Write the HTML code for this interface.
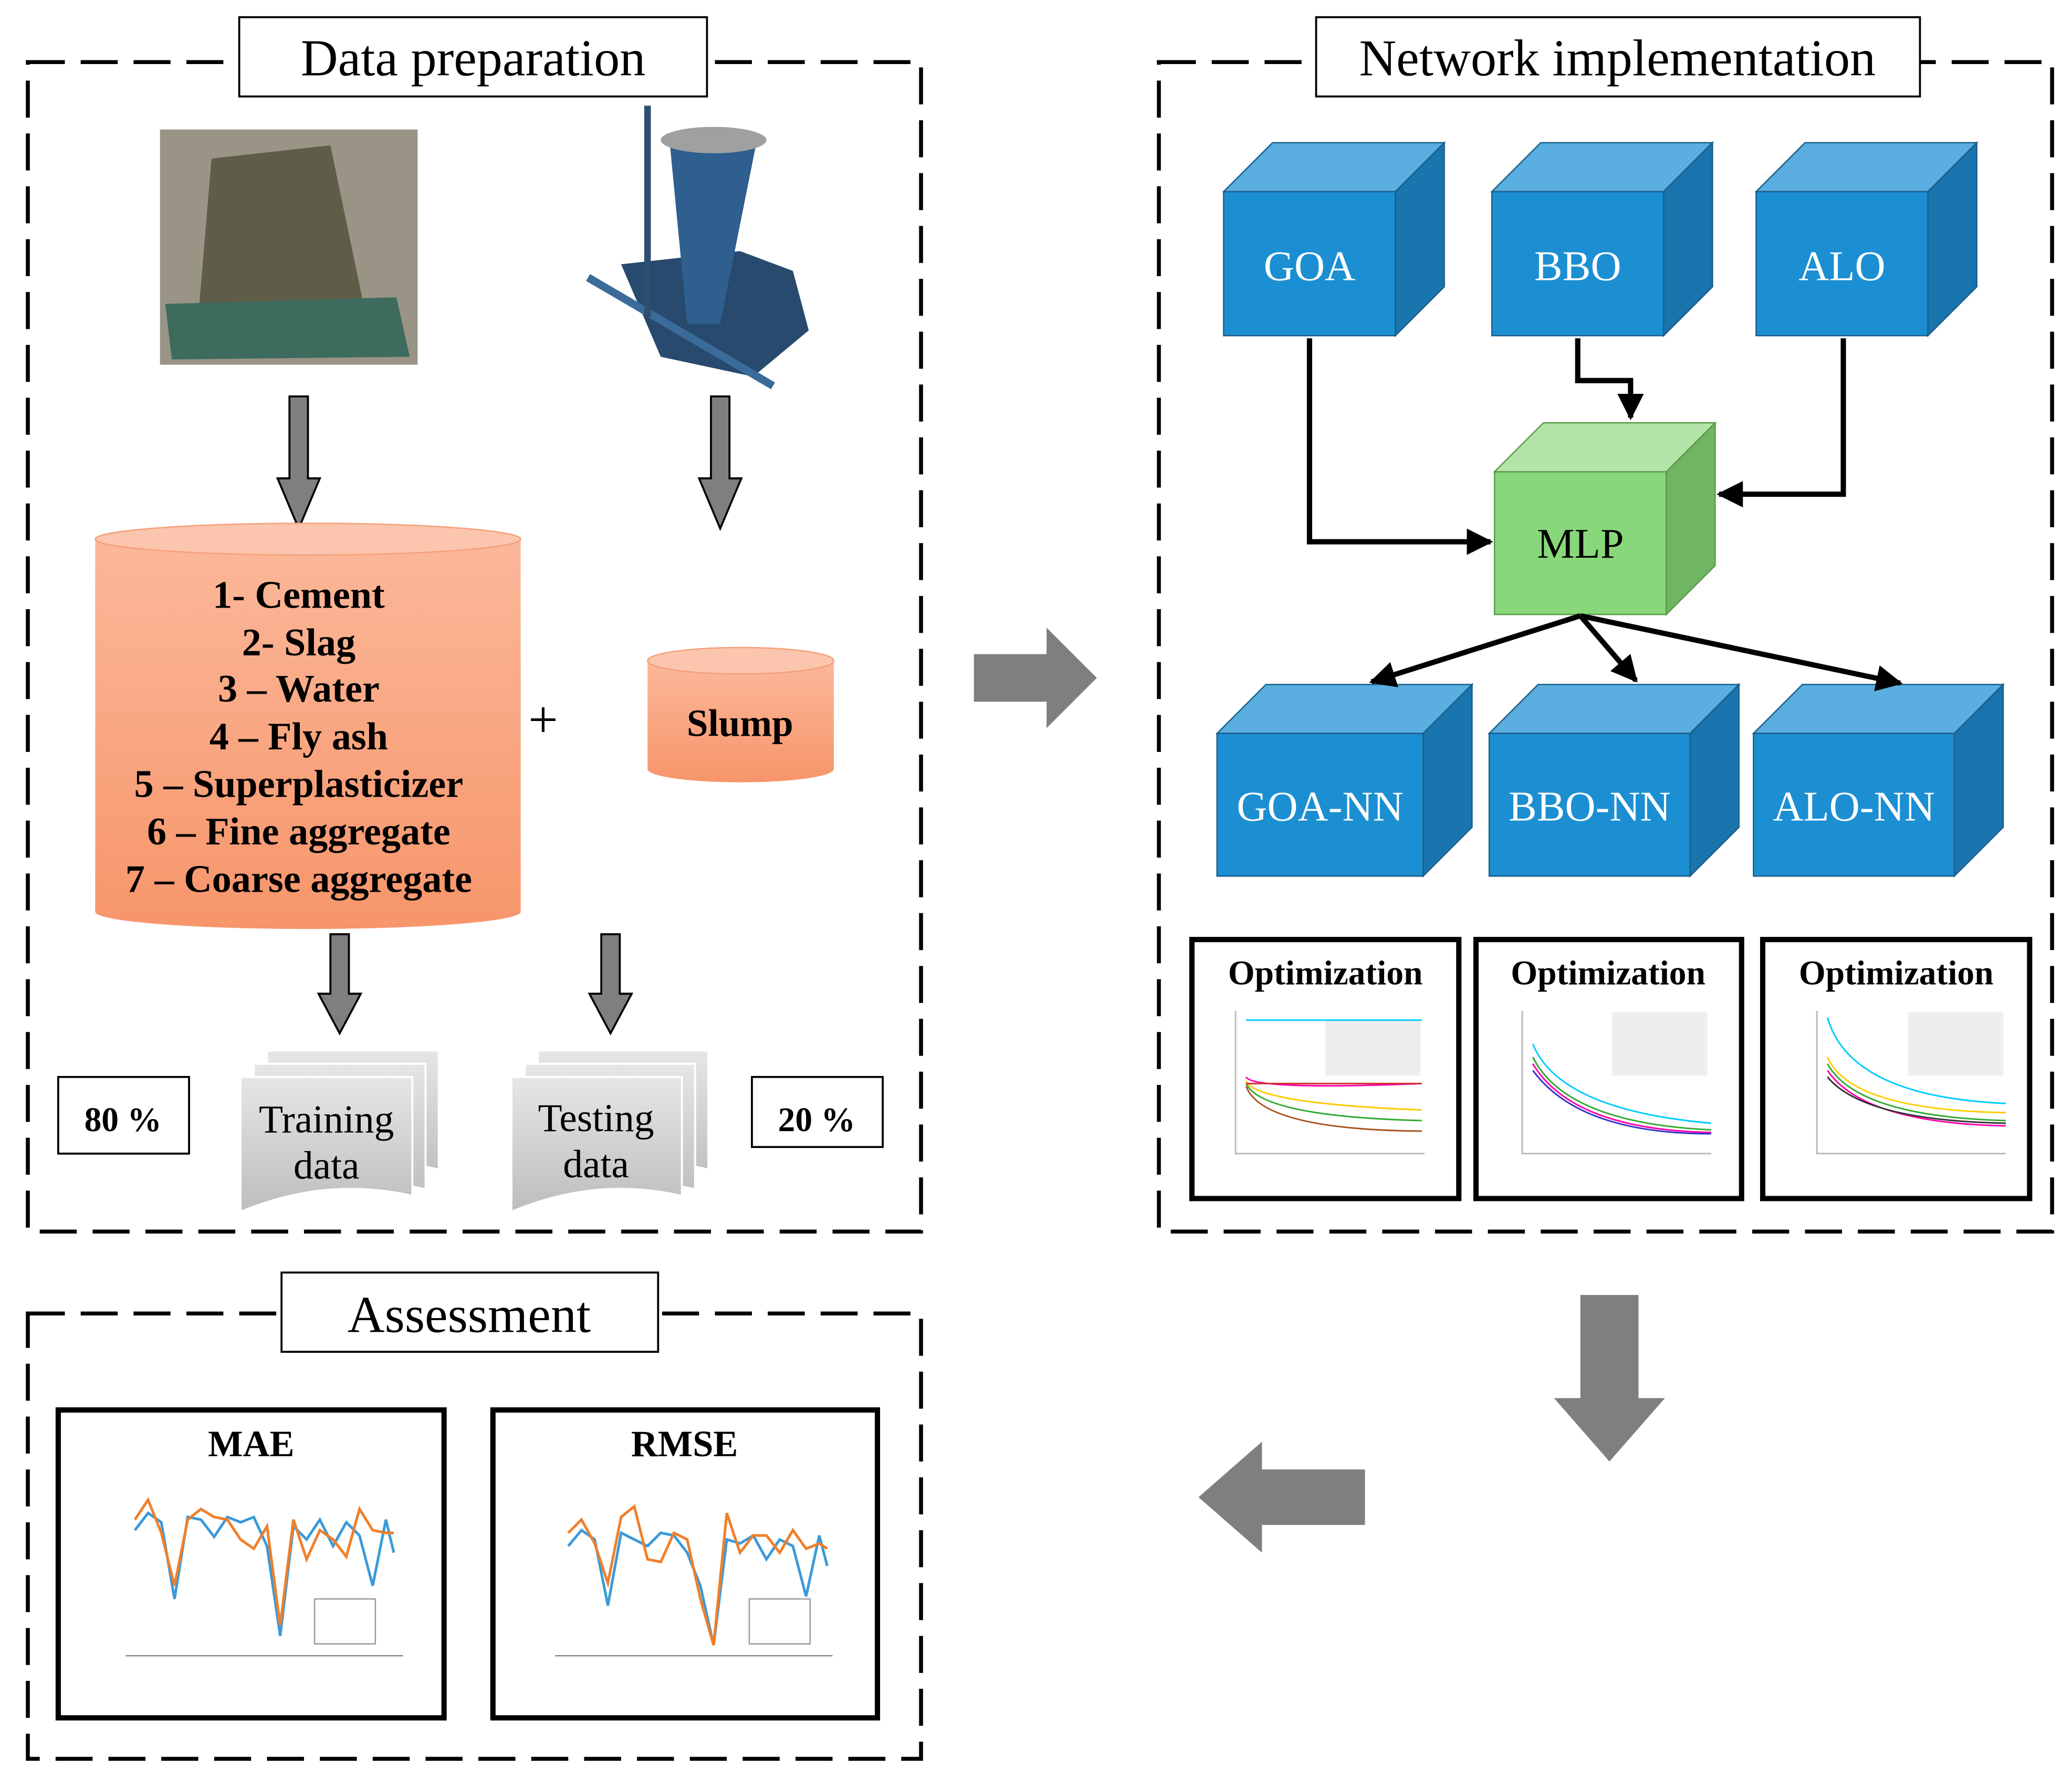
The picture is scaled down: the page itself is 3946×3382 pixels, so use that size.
<!DOCTYPE html>
<html><head><meta charset="utf-8"><style>html,body{margin:0;padding:0;background:#fff}svg{display:block}</style></head>
<body>
<svg width="3946" height="3382" viewBox="0 0 1568 1344" xmlns="http://www.w3.org/2000/svg" font-family="Liberation Serif, serif">
<defs>
<linearGradient id="og" x1="0" x2="0" y1="0" y2="1"><stop offset="0" stop-color="#fbb89a"/><stop offset="1" stop-color="#f7956a"/></linearGradient>
<linearGradient id="gg" x1="0" x2="0" y1="0" y2="1"><stop offset="0" stop-color="#e6e6e6"/><stop offset="1" stop-color="#bdbdbd"/></linearGradient>
<marker id="ah" viewBox="0 0 10 10" refX="9" refY="5" markerWidth="5" markerHeight="5" orient="auto"><path d="M0,0L10,5L0,10z" fill="#000"/></marker>
</defs>
<g fill="none" stroke="#000" stroke-width="3" stroke-dasharray="28,12">
<rect x="21" y="47" width="676" height="885"/>
<rect x="877" y="47" width="676" height="885"/>
<rect x="21" y="994" width="676" height="337"/>
</g>
<g fill="#fff" stroke="#000" stroke-width="1.5">
<rect x="181" y="13" width="354" height="60"/>
<rect x="996" y="13" width="457" height="60"/>
<rect x="213" y="963" width="285" height="60"/>
</g>
<g font-size="39" text-anchor="middle">
<text x="358" y="57">Data preparation</text>
<text x="1224" y="57">Network implementation</text>
<text x="355" y="1008">Assessment</text>
</g>
<!-- photo -->
<rect x="121" y="98" width="195" height="178" fill="#9a9486"/>
<path d="M160,120 L250,110 L275,230 L150,240z" fill="#5f5d48"/>
<path d="M125,230 L300,225 L310,270 L130,272z" fill="#3d6b5e"/>
<!-- slump cone -->
<path d="M470,200 L500,270 L570,285 L612,250 L600,205 L560,190z" fill="#274a6e"/>
<path d="M507,110 L572,110 L545,245 L520,245z" fill="#2e5f8f"/>
<ellipse cx="540" cy="106" rx="40" ry="10" fill="#a0a0a0"/>
<line x1="445" y1="210" x2="585" y2="292" stroke="#3b6b99" stroke-width="6"/>
<line x1="490" y1="80" x2="490" y2="240" stroke="#2e4f70" stroke-width="5"/>
<!-- gray arrows -->
<g fill="#7f7f7f" stroke="#000" stroke-width="1.5">
<path d="M219,300h14v62h9l-16,38l-16,-38h9z"/>
<path d="M538,300h14v62h9l-16,38l-16,-38h9z"/>
<path d="M250,707h14v45h9l-16,30l-16,-30h9z"/>
<path d="M455,707h14v45h9l-16,30l-16,-30h9z"/>
</g>
<!-- cylinder -->
<path d="M72,408 L394,408 L394,690 A161,13 0 0 1 72,690 Z" fill="url(#og)"/>
<ellipse cx="233" cy="408" rx="161" ry="12" fill="#fcc5ad" stroke="#f5a07a"/>
<g font-size="29.5" font-weight="bold" text-anchor="middle">
<text x="226" y="460">1- Cement</text><text x="226" y="496">2- Slag</text><text x="226" y="531">3 – Water</text><text x="226" y="567">4 – Fly ash</text><text x="226" y="603">5 – Superplasticizer</text><text x="226" y="639">6 – Fine aggregate</text><text x="226" y="675">7 – Coarse aggregate</text>
</g>
<text x="411" y="558" font-size="40" text-anchor="middle">+</text>
<path d="M490,500 L631,500 L631,582 A70.5,10 0 0 1 490,582 Z" fill="url(#og)"/>
<ellipse cx="560.5" cy="500" rx="70.5" ry="10" fill="#fcc5ad" stroke="#f5a07a"/>
<text x="560" y="557" font-size="29" font-weight="bold" text-anchor="middle">Slump</text>
<g fill="#fff" stroke="#000" stroke-width="1.5"><rect x="44" y="815" width="99" height="58"/><rect x="569" y="815" width="99" height="53"/></g>
<g font-size="26" font-weight="bold" text-anchor="middle"><text x="93" y="856">80 %</text><text x="618" y="856">20 %</text></g>
<!-- documents -->
<g stroke="#fff" stroke-width="1.5" fill="url(#gg)">
<path d="M202,795h130v90q-65,-15 -130,10z"/><path d="M192,805h130v95q-65,-15 -130,10z"/><path d="M182,815h130v90q-65,-15 -130,12z"/>
<path d="M407,795h129v90q-65,-15 -129,10z"/><path d="M397,805h129v95q-65,-15 -129,10z"/><path d="M387,815h129v90q-65,-15 -129,12z"/>
</g>
<g font-size="30" text-anchor="middle"><text x="247" y="857">Training</text><text x="247" y="892">data</text><text x="451" y="856">Testing</text><text x="451" y="891">data</text></g>
<!-- big arrows -->
<g fill="#7f7f7f">
<path d="M737,495h55v-20l38,38l-38,38v-20h-55z"/>
<path d="M1196,980h44v78h20l-42,48l-42,-48h20z"/>
<path d="M1033,1112v42h-78v21l-48,-42l48,-42v21z"/>
</g>
<!-- cubes -->
<g stroke="#1b5e8a" stroke-width="1">
<g><rect x="926" y="145" width="130" height="109" fill="#1b8fd2"/><path d="M926,145l37,-37h130l-37,37z" fill="#5aaee0"/><path d="M1056,145l37,-37v109l-37,37z" fill="#1a74ad"/></g>
<g><rect x="1129" y="145" width="130" height="109" fill="#1b8fd2"/><path d="M1129,145l37,-37h130l-37,37z" fill="#5aaee0"/><path d="M1259,145l37,-37v109l-37,37z" fill="#1a74ad"/></g>
<g><rect x="1329" y="145" width="130" height="109" fill="#1b8fd2"/><path d="M1329,145l37,-37h130l-37,37z" fill="#5aaee0"/><path d="M1459,145l37,-37v109l-37,37z" fill="#1a74ad"/></g>
<g><rect x="921" y="555" width="156" height="108" fill="#1b8fd2"/><path d="M921,555l37,-37h156l-37,37z" fill="#5aaee0"/><path d="M1077,555l37,-37v108l-37,37z" fill="#1a74ad"/></g>
<g><rect x="1127" y="555" width="152" height="108" fill="#1b8fd2"/><path d="M1127,555l37,-37h152l-37,37z" fill="#5aaee0"/><path d="M1279,555l37,-37v108l-37,37z" fill="#1a74ad"/></g>
<g><rect x="1327" y="555" width="152" height="108" fill="#1b8fd2"/><path d="M1327,555l37,-37h152l-37,37z" fill="#5aaee0"/><path d="M1479,555l37,-37v108l-37,37z" fill="#1a74ad"/></g>
</g>
<g stroke="#5a9a4a"><rect x="1131" y="357" width="130" height="108" fill="#88d77a"/><path d="M1131,357l37,-37h130l-37,37z" fill="#b3e4a8"/><path d="M1261,357l37,-37v108l-37,37z" fill="#6fb562"/></g>
<g font-size="32" fill="#fff" text-anchor="middle">
<text x="991" y="212">GOA</text><text x="1194" y="212">BBO</text><text x="1394" y="212">ALO</text>
<text x="999" y="621">GOA-NN</text><text x="1203" y="621">BBO-NN</text><text x="1403" y="621">ALO-NN</text>
</g>
<text x="1196" y="422" font-size="32" text-anchor="middle">MLP</text>
<g fill="none" stroke="#000" stroke-width="4" marker-end="url(#ah)">
<path d="M991,256V410H1128"/>
<path d="M1194,256V288H1234V316"/>
<path d="M1395,256V374H1301"/>
<path d="M1196,466L1038,516"/><path d="M1196,466L1238,515"/><path d="M1196,466L1438,517"/>
</g>
<!-- optimization -->
<g fill="#fff" stroke="#000" stroke-width="4">
<rect x="902" y="711" width="202" height="196"/><rect x="1117" y="711" width="201" height="196"/><rect x="1334" y="711" width="202" height="196"/>
</g>
<g font-size="26" font-weight="bold" text-anchor="middle"><text x="1003" y="745">Optimization</text><text x="1217" y="745">Optimization</text><text x="1435" y="745">Optimization</text></g>
<g fill="none" stroke-width="1.2">
<rect x="1003" y="772" width="72" height="42" fill="#eee" stroke="none"/>
<rect x="1220" y="766" width="72" height="48" fill="#eee" stroke="none"/>
<rect x="1444" y="766" width="72" height="48" fill="#eee" stroke="none"/>
<path d="M935,765V873H1078M1152,765V873H1295M1375,765V873H1518" stroke="#bbb"/>
<path d="M943,772H1076" stroke="#0cf"/><path d="M943,815Q948,825 1076,820" stroke="#f0a"/><path d="M943,818Q950,835 1076,840" stroke="#fc0"/><path d="M943,820Q955,845 1076,848" stroke="#3a3"/><path d="M943,822Q955,855 1076,856" stroke="#a52"/><path d="M943,820H1076" stroke="#c33"/>
<path d="M1160,790Q1180,840 1295,850" stroke="#0cf"/><path d="M1160,800Q1185,850 1295,855" stroke="#3a3"/><path d="M1160,805Q1190,855 1295,857" stroke="#f0a"/><path d="M1160,810Q1195,858 1295,858" stroke="#33c"/>
<path d="M1383,770Q1400,830 1518,835" stroke="#0cf"/><path d="M1383,800Q1400,840 1518,842" stroke="#fc0"/><path d="M1383,805Q1405,845 1518,848" stroke="#3a3"/><path d="M1383,810Q1410,850 1518,852" stroke="#f0a"/><path d="M1383,815Q1410,848 1518,850" stroke="#333"/>
</g>
<!-- assessment charts -->
<g fill="#fff" stroke="#000" stroke-width="4"><rect x="44" y="1067" width="292" height="233"/><rect x="373" y="1067" width="291" height="233"/></g>
<g font-size="28" font-weight="bold" text-anchor="middle"><text x="190" y="1102">MAE</text><text x="518" y="1102">RMSE</text></g>
<g fill="none" stroke-width="2">
<path d="M95,1253H305M420,1253H630" stroke="#888" stroke-width="1"/>
<polyline points="102,1158 112,1145 122,1152 132,1210 142,1148 152,1150 162,1163 172,1148 182,1152 192,1148 202,1170 212,1238 222,1155 232,1165 242,1150 252,1170 262,1152 272,1162 282,1200 292,1150 298,1175" stroke="#3a9ad9"/>
<polyline points="102,1150 112,1135 122,1160 132,1200 142,1150 152,1142 162,1148 172,1150 182,1165 192,1172 202,1155 212,1230 222,1150 232,1180 242,1158 252,1165 262,1178 272,1142 282,1158 292,1160 298,1160" stroke="#f07f2a"/>
<polyline points="430,1170 440,1158 450,1165 460,1215 470,1160 480,1165 490,1170 500,1160 510,1162 520,1175 530,1200 540,1245 550,1165 560,1168 570,1162 580,1180 590,1165 600,1170 610,1208 620,1162 626,1185" stroke="#3a9ad9"/>
<polyline points="430,1160 440,1150 450,1168 460,1198 470,1148 480,1140 490,1180 500,1182 510,1160 520,1165 530,1210 540,1245 550,1145 560,1175 570,1162 580,1162 590,1175 600,1158 610,1172 620,1168 626,1172" stroke="#f07f2a"/>
</g>
<g fill="#fff" stroke="#999" stroke-width="1"><rect x="238" y="1210" width="46" height="34"/><rect x="567" y="1210" width="46" height="34"/></g>
</svg>
</body></html>
